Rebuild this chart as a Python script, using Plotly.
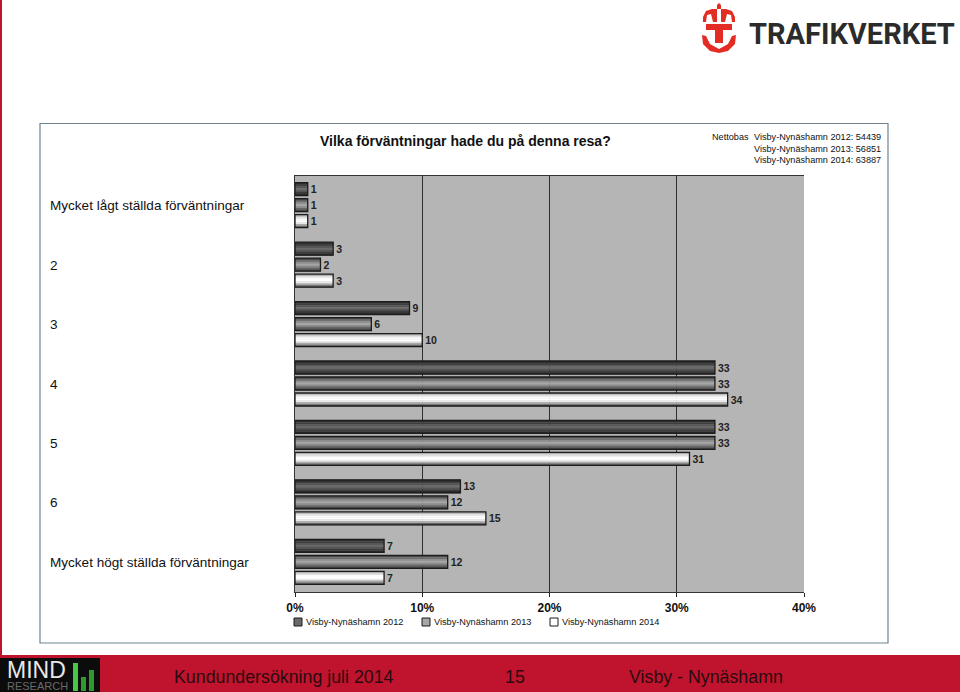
import plotly.graph_objects as go

categories = ["Mycket lågt ställda förväntningar", "2", "3", "4", "5", "6", "Mycket högt ställda förväntningar"]
series_names = ["Visby-Nynäshamn 2012", "Visby-Nynäshamn 2013", "Visby-Nynäshamn 2014"]
values_2012 = [1, 3, 9, 33, 33, 13, 7]
values_2013 = [1, 2, 6, 33, 33, 12, 12]
values_2014 = [1, 3, 10, 34, 31, 15, 7]
x_ticks = [0, 10, 20, 30, 40]
x_labels = ["0%", "10%", "20%", "30%", "40%"]
netto_lines = ["Visby-Nynäshamn 2012: 54439", "Visby-Nynäshamn 2013: 56851", "Visby-Nynäshamn 2014: 63887"]

series_values = [values_2012, values_2013, values_2014]
gradients = [
    ["#2e2e2e", "#3f3f3f", "#555555", "#6a6a6a", "#555555", "#3c3c3c", "#2a2a2a"],
    ["#4a4a4a", "#6f6f6f", "#8f8f8f", "#a6a6a6", "#8c8c8c", "#666666", "#444444"],
    ["#b0b0b0", "#e0e0e0", "#fbfbfb", "#ffffff", "#e8e8e8", "#a8a8a8", "#666666"],
]

L, R, T, B = 295, 804, 176, 592
def px(x): return (x - L) / (R - L)
def py(y): return 1 - (y - T) / (B - T)

band = (B - T) / len(categories)
thick = 13 / band
step = 16 / band

fig = go.Figure()
for s, vals in enumerate(series_values):
    centers = [i + 0.5 + (s - 1) * step - 0.5 / band for i in range(len(vals))]
    n = len(gradients[s])
    for k, color in enumerate(gradients[s]):
        offs = -thick / 2 + k * thick / n
        fig.add_trace(go.Bar(
            y=centers, x=vals, orientation="h", width=thick / n * 1.15, offset=offs,
            marker=dict(color=color, line=dict(width=0)),
            hoverinfo="skip", showlegend=False,
        ))
    fig.add_trace(go.Bar(
        y=centers, x=vals, orientation="h", width=thick, offset=-thick / 2,
        name=series_names[s],
        marker=dict(color="rgba(0,0,0,0)", line=dict(color="#1c1c1c", width=1.3)),
        text=[str(v) for v in vals], textposition="outside", cliponaxis=False,
        textfont=dict(family="Liberation Sans", size=10.5, color="#222222", weight="bold"),
        showlegend=False,
    ))

shapes = []
def rect(x0, y0, x1, y1, fill, line=None, lw=0, layer="above"):
    shapes.append(dict(type="rect", xref="paper", yref="paper", x0=px(x0), x1=px(x1), y0=py(y0), y1=py(y1),
                       fillcolor=fill, line=dict(color=line or fill, width=lw), layer=layer))
def path(points, fill, line=None, lw=0, close=True):
    d = "M" + " L".join(f"{px(x):.5f},{py(y):.5f}" for x, y in points) + (" Z" if close else "")
    shapes.append(dict(type="path", xref="paper", yref="paper", path=d,
                       fillcolor=fill if close else "rgba(0,0,0,0)", line=dict(color=line or fill, width=lw)))

# page furniture
rect(40, 123.5, 888, 643, "rgba(0,0,0,0)", "#6f8490", 1.2)
rect(0, 0, 2, 655, "#c0142e")
rect(0, 655, 960, 692, "#c0142e")
rect(0, 658, 100, 692, "#0c0c0c")
rect(73, 663, 78, 691, "#45c845")
rect(81, 677, 86, 691, "#2f9a2f")
rect(89, 670, 94, 691, "#2f9a2f")
# emblem
RED = "#e32d24"
rect(706, 24, 732, 30, RED)
rect(715, 30, 723, 43, RED)
path([(703,17),(706,11),(712,9),(717,9),(717,22),(713,22),(711,14),(707,15),(706,22),(703,22)], RED)
path([(735,17),(732,11),(726,9),(721,9),(721,22),(725,22),(727,14),(731,15),(732,22),(735,22)], RED)
path([(717,9),(717,5),(719,3),(721,5),(721,9)], RED)
path([(702,35),(706,36),(710,44),(719,49),(728,44),(732,36),(736,35),(735,44),(728,51),(719,53),(710,51),(703,44)], RED)

# legend swatches
for s, g in enumerate(gradients):
    x = 294 + 128 * s
    rect(x, 618, x + 8, 626, g[3], "#1c1c1c", 1)

ann = []
def text(x, y, t, size, anchor="left", bold=False, color="#111111", family="Liberation Sans"):
    xx = x - 2 if anchor == "left" else x
    ann.append(dict(xref="paper", yref="paper", x=px(xx), y=py(y), text=t, showarrow=False,
                    xanchor=anchor, yanchor="middle", align=anchor,
                    font=dict(family=family, size=size, color=color, weight="bold" if bold else "normal")))

text(320, 141, "Vilka förväntningar hade du på denna resa?", 14, bold=True)
text(712, 137, "Nettobas", 9.15)
for i, line in enumerate(netto_lines):
    text(754, 137 + 11.5 * i, line, 9.15)
for i, c in enumerate(categories):
    text(50, T + band * (i + 0.5), c, 13.55)
for s, name in enumerate(series_names):
    text(306 + 128 * s, 622, name, 9.2)
text(174, 677, "Kundundersökning juli 2014", 17.8, color="#2a0a0e")
text(515, 677, "15", 17.8, anchor="center", color="#2a0a0e")
text(629, 677, "Visby - Nynäshamn", 17.8, color="#2a0a0e")
text(749, 34, "TRAFIKVERKET", 29, bold=True, color="#2b2b2b", family="Roboto")
text(7, 670, "MIND", 23, color="#e8e8e8")
text(7, 686, "RESEARCH", 11, color="#6a6a6a")

fig.update_layout(
    width=960, height=692, autosize=False,
    margin=dict(l=L, r=960 - R, t=T, b=692 - B, pad=0),
    paper_bgcolor="white", plot_bgcolor="#b5b5b5",
    barmode="overlay", showlegend=False,
    shapes=shapes, annotations=ann,
    xaxis=dict(range=[0, 40], tickvals=x_ticks, ticktext=x_labels, ticks="outside", ticklen=4,
               tickcolor="#222222", showgrid=True, gridcolor="#2e2e2e", gridwidth=1.4, zeroline=False,
               showline=True, linecolor="#333333", linewidth=1.2, mirror=True,
               tickfont=dict(family="Liberation Sans", size=12, color="#111111", weight="bold")),
    yaxis=dict(range=[len(categories), 0], showticklabels=False, ticks="", showgrid=False, zeroline=False,
               showline=True, linecolor="#333333", linewidth=1.2),
)
fig.write_html("out.html", config={"displayModeBar": False},
               post_script="document.body.style.margin='0';document.documentElement.style.overflow='hidden';")
